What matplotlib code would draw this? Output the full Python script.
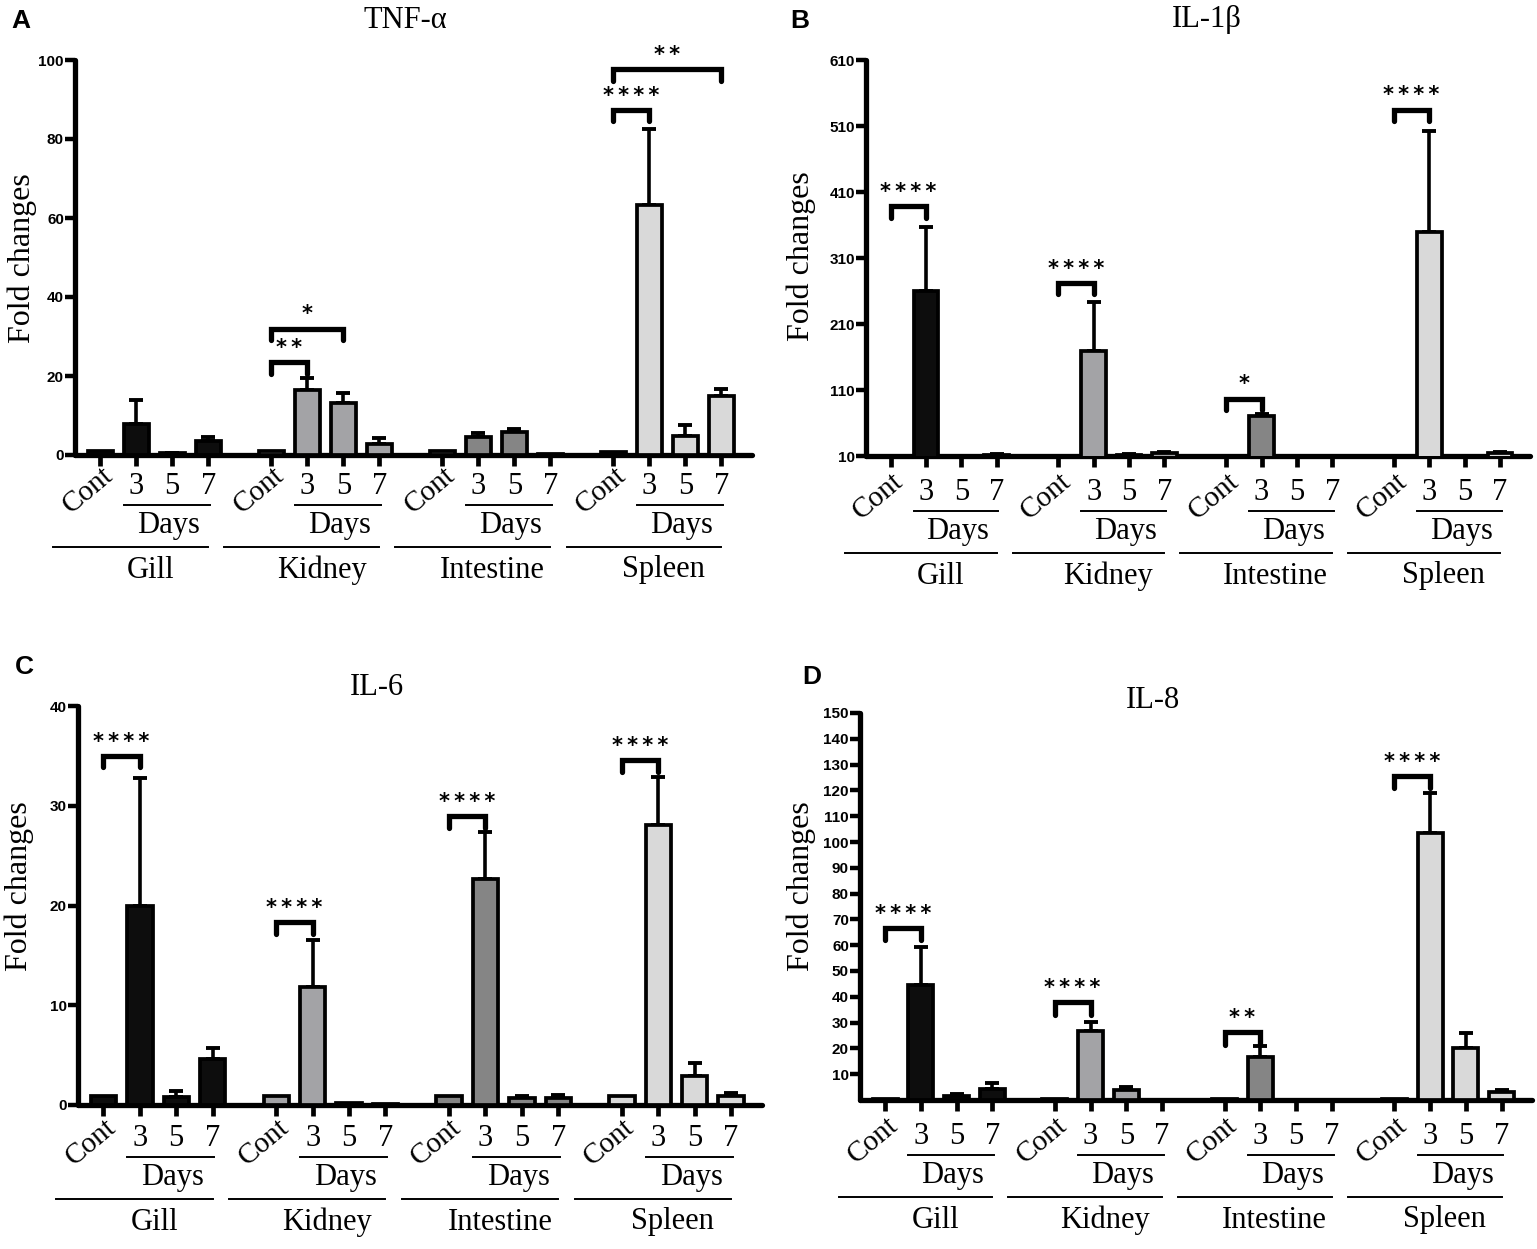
import numpy as np
import matplotlib
matplotlib.use("Agg")
import matplotlib.pyplot as plt
import matplotlib.transforms as mtransforms

W, H, DPI = 1537, 1249, 100

TISSUES = ["Gill", "Kidney", "Intestine", "Spleen"]
DAY_LABELS = ["3", "5", "7"]
TISSUE_COLORS = ["#0d0d0d", "#a3a3a6", "#858585", "#d9d9d9"]

# mean fold change per tissue, bars: Cont, day 3, day 5, day 7
TNF_MEAN = [[1.0, 7.8, 0.5, 3.6], [1.0, 16.5, 13.1, 2.9],
            [1.0, 4.6, 5.8, 0.2], [0.8, 63.4, 4.9, 15.0]]
TNF_SD = [[0, 6.1, 0.1, 1.0], [0, 2.9, 2.7, 1.5],
          [0, 1.0, 0.9, 0], [0, 19.1, 2.6, 1.8]]

IL1B_MEAN = [[1, 260, 1, 12], [1, 169, 12, 14],
             [1, 70, 1, 1], [1, 350, 1, 14]]
IL1B_SD = [[0, 97, 0, 1], [0, 74, 1, 2],
           [0, 4, 0, 0], [0, 152, 0, 2]]

IL6_MEAN = [[0.9, 20.0, 0.8, 4.6], [0.9, 11.8, 0.2, 0.1],
            [0.9, 22.7, 0.7, 0.7], [0.9, 28.1, 2.9, 0.9]]
IL6_SD = [[0, 12.8, 0.6, 1.1], [0, 4.7, 0, 0],
          [0, 4.7, 0.2, 0.3], [0, 4.8, 1.3, 0.3]]

IL8_MEAN = [[0.3, 44.6, 1.5, 4.2], [0.3, 26.8, 3.9, 0.0],
            [0.3, 16.7, 0.0, 0.0], [0.3, 103.3, 20.0, 3.0]]
IL8_SD = [[0, 14.6, 0.8, 2.3], [0, 3.5, 1.1, 0],
          [0, 4.4, 0, 0], [0, 15.7, 5.8, 0.9]]

# significance: (tissue, bar a, bar b, bracket height, leg end, stars)
TNF_SIG = [(1, 0, 1, 23.5, 20.4, "**"), (1, 0, 2, 32.0, 29.0, "*"),
           (3, 0, 1, 87.4, 84.5, "****"), (3, 0, 3, 97.6, 94.7, "**")]
IL1B_SIG = [(0, 0, 1, 389, 371, "****"), (1, 0, 1, 272, 255, "****"),
            (2, 0, 1, 97, 80, "*"), (3, 0, 1, 535, 517, "****")]
IL6_SIG = [(0, 0, 1, 35.0, 33.9, "****"), (1, 0, 1, 18.3, 17.1, "****"),
           (2, 0, 1, 29.0, 27.8, "****"), (3, 0, 1, 34.6, 33.4, "****")]
IL8_SIG = [(0, 0, 1, 66.7, 61.9, "****"), (1, 0, 1, 37.8, 32.8, "****"),
           (2, 0, 1, 26.3, 21.2, "**"), (3, 0, 1, 125.4, 120.9, "****")]

PANELS = [
    dict(letter="A", title="TNF-\u03b1", mean=TNF_MEAN, sd=TNF_SD, sig=TNF_SIG,
         ylim=(0, 100), yticks=np.arange(0, 101, 20),
         rect=(75, 60, 752, 455), title_xy=(405, 20), letter_xy=(21, 21),
         ylab_xy=(22, 258), off=0),
    dict(letter="B", title="IL-1\u03b2", mean=IL1B_MEAN, sd=IL1B_SD, sig=IL1B_SIG,
         ylim=(10, 610), yticks=np.arange(10, 611, 100),
         rect=(866, 60, 1530, 456), title_xy=(1207, 20), letter_xy=(800, 21),
         ylab_xy=(801, 256), off=5),
    dict(letter="C", title="IL-6", mean=IL6_MEAN, sd=IL6_SD, sig=IL6_SIG,
         ylim=(0, 40), yticks=np.arange(0, 41, 10),
         rect=(78, 706, 762, 1105), title_xy=(377, 688), letter_xy=(24, 667),
         ylab_xy=(19, 886), off=2),
    dict(letter="D", title="IL-8", mean=IL8_MEAN, sd=IL8_SD, sig=IL8_SIG,
         ylim=(0, 150), yticks=np.arange(10, 151, 10),
         rect=(860, 713, 1532, 1100), title_xy=(1153, 700), letter_xy=(812, 677),
         ylab_xy=(801, 886), off=5),
]

GROUP_STEP = 4.75
SERIF = "Liberation Serif"
SANS = "Liberation Sans"

fig = plt.figure(figsize=(W / DPI, H / DPI), dpi=DPI)


def px_to_fig(x, y):
    return x / W, 1 - y / H


def below(ax, dy_px):
    # x in data units, y = axis line shifted down by dy pixels
    return ax.get_xaxis_transform() + mtransforms.ScaledTranslation(
        0, -dy_px / DPI, fig.dpi_scale_trans)


for p in PANELS:
    l, t, r, b = p["rect"]
    ax = fig.add_axes([l / W, 1 - b / H, (r - l) / W, (b - t) / H])
    ax.set_xlim(-0.7, 18.1)
    ax.set_ylim(*p["ylim"])

    xs_all = []
    for g in range(4):
        xs = g * GROUP_STEP + np.arange(4)
        xs_all.extend(xs)
        mean = np.array(p["mean"][g], dtype=float)
        sd = np.array(p["sd"][g], dtype=float)
        ax.bar(xs, mean, width=0.7, color=TISSUE_COLORS[g], edgecolor="black",
               linewidth=2.7, zorder=3)
        keep = sd > 0
        ax.errorbar(xs[keep], mean[keep],
                    yerr=[np.zeros(keep.sum()), sd[keep]], fmt="none",
                    ecolor="black", elinewidth=2.6, capsize=5, capthick=2.8,
                    zorder=2)

        off = p["off"]
        # category labels under the axis
        ax.text(xs[0] - 0.35, 0, "Cont", transform=below(ax, 35 + off),
                rotation=40, ha="center", va="center", family=SERIF,
                fontsize=21)
        for i, lab in enumerate(DAY_LABELS):
            ax.text(xs[i + 1], 0, lab, transform=below(ax, 31 + off),
                    ha="center", va="center", family=SERIF, fontsize=22)
        ax.plot([xs[0] + 0.65, xs[0] + 3.05], [0, 0], color="black", lw=1.4,
                transform=below(ax, 50 + off), clip_on=False)
        ax.text(xs[0] + 1.9, 0, "Days", transform=below(ax, 71 + off),
                ha="center", va="center", family=SERIF, fontsize=22)
        ax.plot([xs[0] - 1.3, xs[0] + 3.0], [0, 0], color="black", lw=1.4,
                transform=below(ax, 92 + off), clip_on=False)
        ax.text(xs[0] + 1.4, 0, TISSUES[g], transform=below(ax, 115 + off),
                ha="center", va="center", family=SERIF, fontsize=22)

    for g, a, bb, yb, yl, stars in p["sig"]:
        xa = g * GROUP_STEP + a
        xb = g * GROUP_STEP + bb
        ax.plot([xa, xa, xb, xb], [yl, yb, yb, yl], color="black", lw=3.8,
                solid_capstyle="round", solid_joinstyle="miter", zorder=4,
                clip_on=False)
        ax.annotate("\u2009".join(stars), xy=((xa + xb) / 2, yb),
                    xytext=(0, 3), textcoords="offset points", ha="center",
                    va="bottom", fontsize=15, fontweight="bold",
                    family="DejaVu Sans", annotation_clip=False)

    for side in ("top", "right"):
        ax.spines[side].set_visible(False)
    for side in ("left", "bottom"):
        ax.spines[side].set_linewidth(3.8)
        ax.spines[side].set_capstyle("round")
    ax.set_xticks(xs_all)
    ax.set_xticklabels([])
    ax.tick_params(axis="x", direction="out", length=8, width=3.4)
    ax.set_yticks(p["yticks"])
    ax.tick_params(axis="y", direction="out", length=7, width=3.2, pad=1)
    for lab in ax.get_yticklabels():
        lab.set_family(SANS)
        lab.set_fontweight("bold")
        lab.set_fontsize(11)

    fig.text(*px_to_fig(*p["title_xy"]), p["title"], ha="center", va="center",
             family=SERIF, fontsize=22)
    fig.text(*px_to_fig(*p["letter_xy"]), p["letter"], ha="center", va="center",
             family=SANS, fontweight="bold", fontsize=19)
    fig.text(*px_to_fig(*p["ylab_xy"]), "Fold changes", ha="center",
             va="center", rotation=90, family=SERIF, fontsize=23)

fig.savefig("out.png", dpi=DPI)
